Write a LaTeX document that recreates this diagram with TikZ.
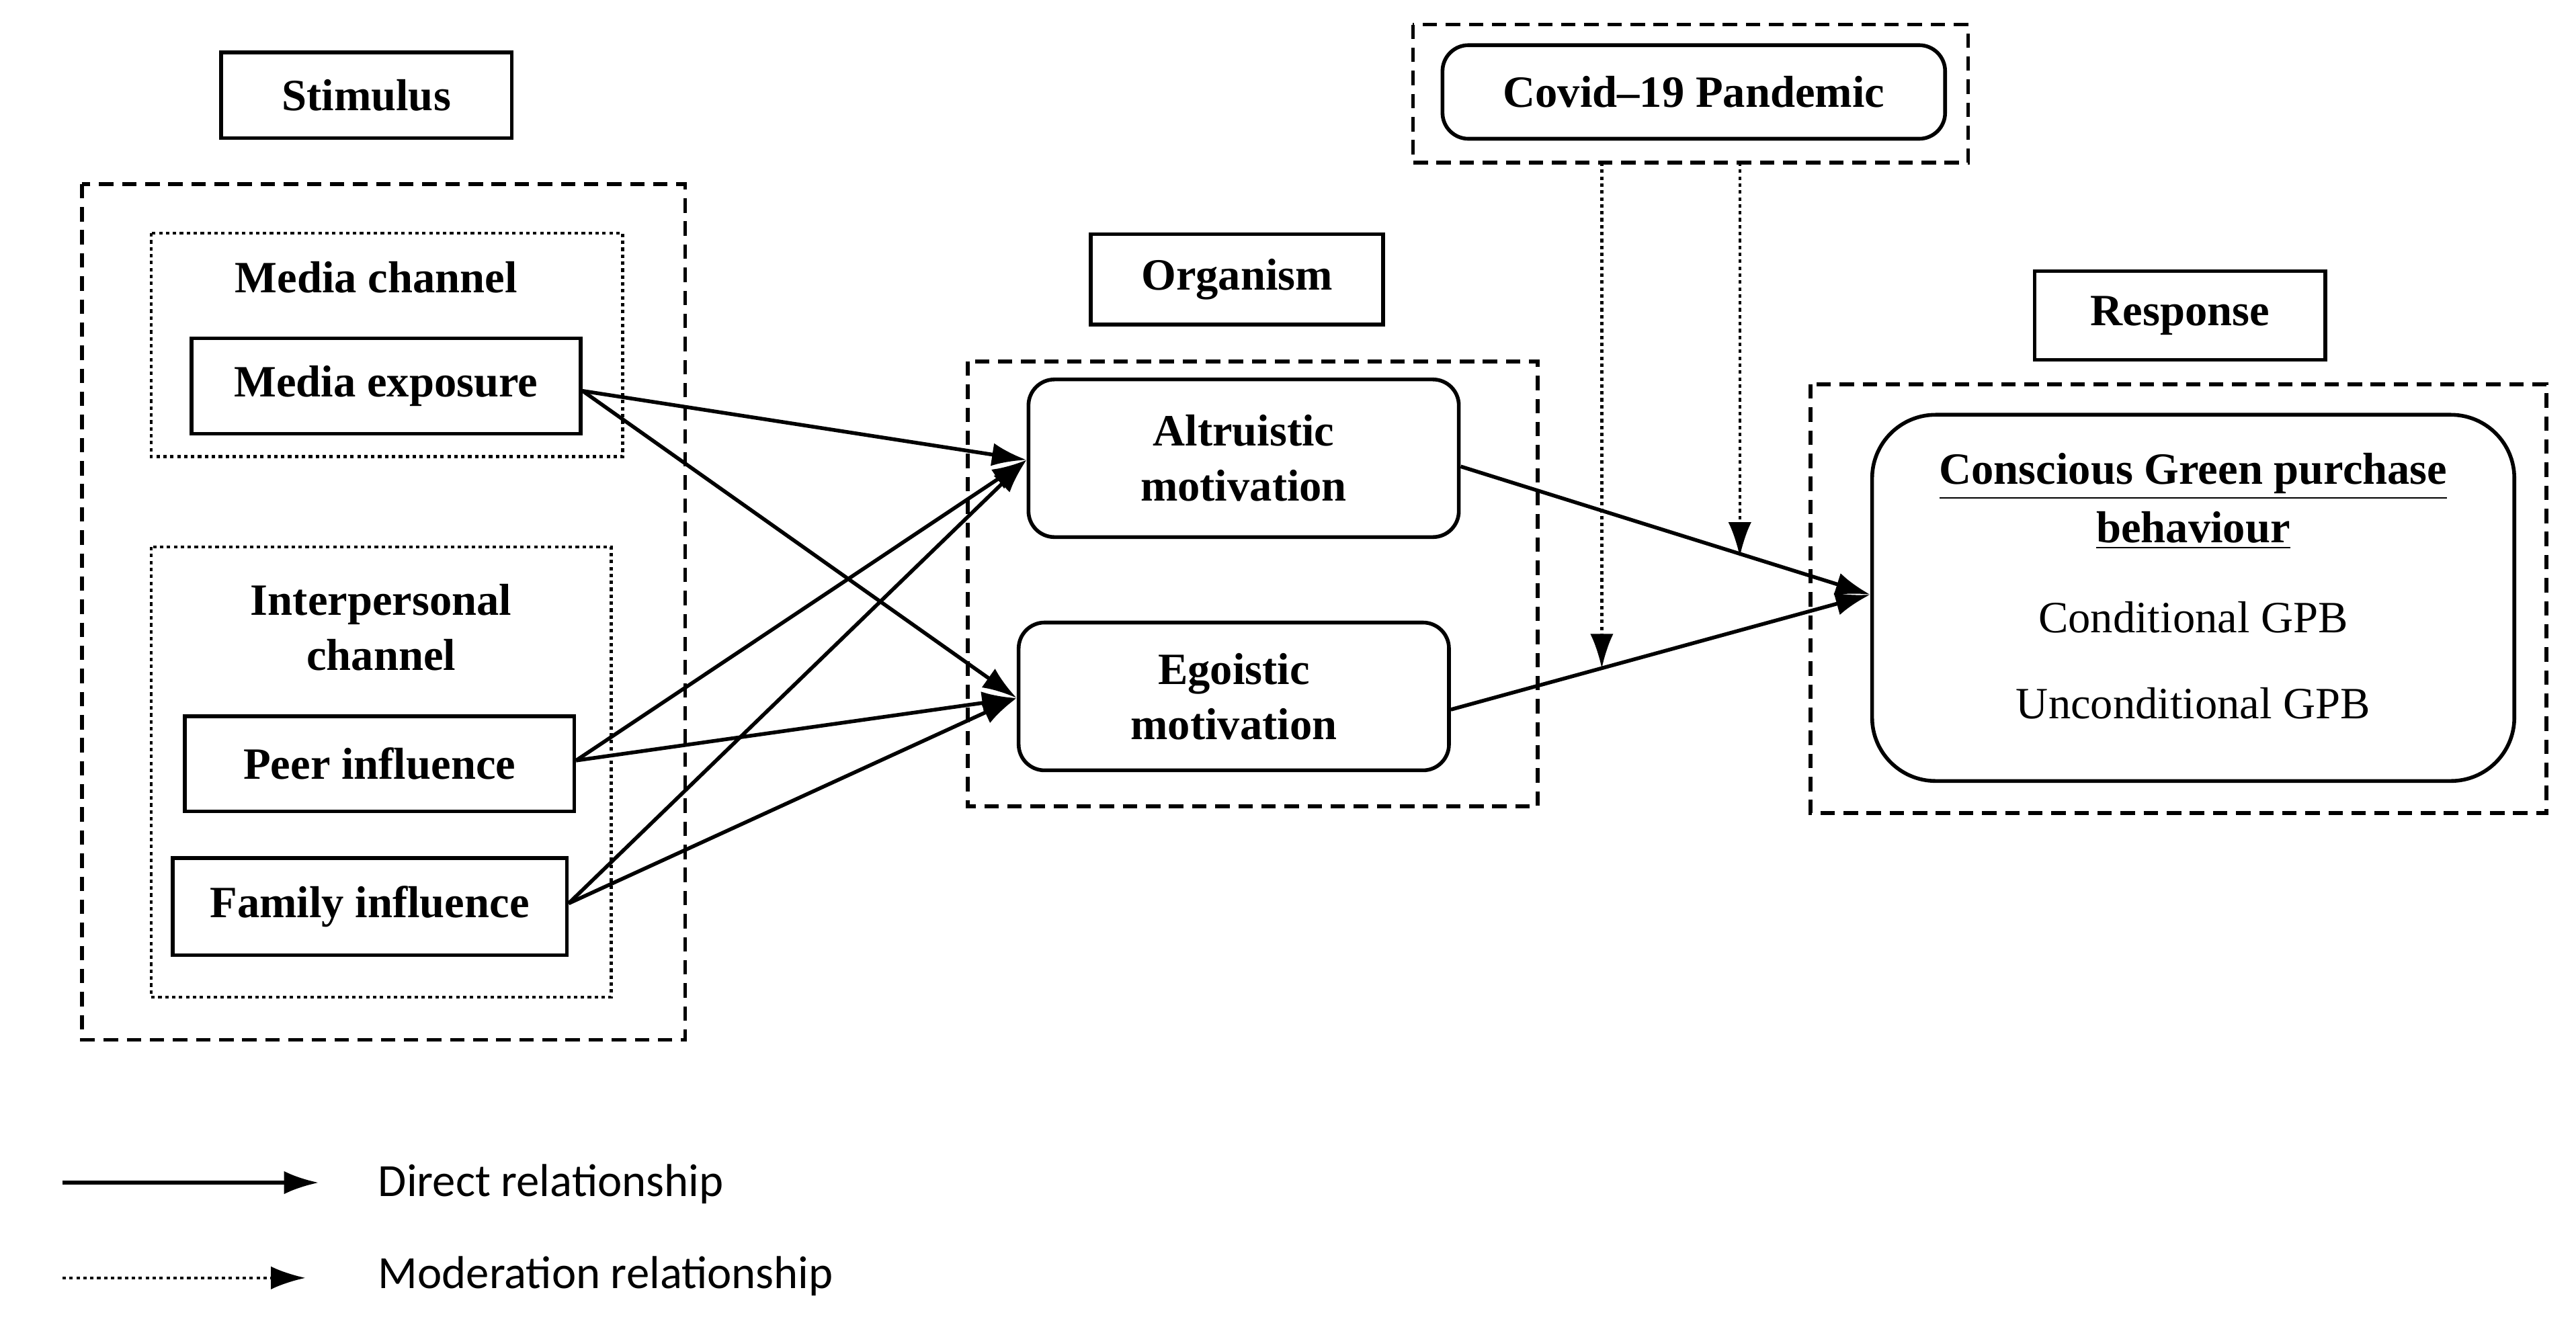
\documentclass[tikz,border=0pt]{standalone}
\usepackage{fontspec}
\setmainfont{Liberation Serif}
\newfontfamily\legfont{Carlito}
\usetikzlibrary{arrows.meta}
\begin{document}
\begin{tikzpicture}[x=0.02cm,y=-0.02cm,
  lw/.style={line width=1.3pt},
  box/.style={draw,lw,font=\fontsize{15.5}{19}\selectfont\bfseries,inner sep=0pt,align=center},
  rbox/.style={box,rounded corners=9pt},
  dashbox/.style={draw,lw,dash pattern=on 5pt off 3pt},
  dotbox/.style={draw,line width=1pt,dash pattern=on 1.2pt off 1.2pt},
  arr/.style={lw,-{Latex[length=12pt,width=8pt]}},
  marr/.style={line width=1pt,dash pattern=on 1.2pt off 1.2pt,-{Latex[length=12pt,width=8pt]}},
  lbl/.style={font=\fontsize{15.5}{19}\selectfont\bfseries,align=center}]
\useasboundingbox (0,0) rectangle (1568,803);
% Stimulus
\node[box,minimum width=3.54cm,minimum height=1.04cm] (stim) at (223,58) {Stimulus};
\draw[dashbox] (50,112) rectangle (417,633);
\draw[dotbox] (92,142) rectangle (379,278);
\node[lbl] (mc) at (229,169) {Media channel};
\node[box,minimum width=4.74cm,minimum height=1.16cm] (me) at (235,235) {Media exposure};
\draw[dotbox] (92,333) rectangle (372,607);
\node[lbl] (ic) at (232,382) {Interpersonal\\channel};
\node[box,minimum width=4.74cm,minimum height=1.16cm] (peer) at (231,465) {Peer influence};
\node[box,minimum width=4.8cm,minimum height=1.18cm] (fam) at (225,552) {Family influence};
% Organism
\node[box,minimum width=3.56cm,minimum height=1.1cm] (org) at (753,170) {Organism};
\draw[dashbox] (589,220) rectangle (936,491);
\node[rbox,minimum width=5.24cm,minimum height=1.92cm] (alt) at (757,279) {Altruistic\\motivation};
\node[rbox,minimum width=5.24cm,minimum height=1.8cm] (ego) at (751,424) {Egoistic\\motivation};
% Covid
\draw[dashbox] (860,15) rectangle (1198,99);
\coordinate (cb1) at (975,99);
\coordinate (cb2) at (1059,99);
\node[rbox,minimum width=6.12cm,minimum height=1.14cm] (cov) at (1031,56) {Covid--19 Pandemic};
% Response
\node[box,minimum width=3.54cm,minimum height=1.08cm] (resp) at (1327,192) {Response};
\draw[dashbox] (1102,234) rectangle (1550,495);
\node[rbox,rounded corners=22pt,minimum width=7.82cm,minimum height=4.46cm] (cgp) at (1335,364) {};
\node[lbl] (t1) at (1335,290) {\underline{Conscious Green purchase}};
\node[lbl] (t2) at (1335,323) {\underline{behaviour}};
\node[font=\fontsize{15.5}{19}\selectfont] (t3) at (1335,376) {Conditional GPB};
\node[font=\fontsize{15.5}{19}\selectfont] (t4) at (1335,428) {Unconditional GPB};
% arrows
\draw[arr] ([yshift=-0.06cm]me.east) -- ([yshift=-0.02cm]alt.west);
\draw[arr] ([yshift=-0.06cm]me.east) -- ([yshift=-0.02cm]ego.west);
\draw[arr] ([yshift=0.04cm]peer.east) -- ([yshift=-0.02cm]alt.west);
\draw[arr] ([yshift=0.04cm]peer.east) -- ([yshift=-0.02cm]ego.west);
\draw[arr] ([yshift=0.04cm]fam.east) -- ([yshift=-0.02cm]alt.west);
\draw[arr] ([yshift=0.04cm]fam.east) -- ([yshift=-0.02cm]ego.west);
\draw[arr] ([yshift=-0.1cm]alt.east) -- ([yshift=0.04cm]cgp.west);
\draw[arr] ([yshift=-0.16cm]ego.east) -- ([yshift=0.04cm]cgp.west);
\coordinate (m1) at (975,407);
\coordinate (m2) at (1059,339);
\draw[marr] (cb1) -- (m1);
\draw[marr] (cb2) -- (m2);
% legend
\coordinate (l1a) at (38,720); \coordinate (l1b) at (194,720);
\coordinate (l2a) at (38,778); \coordinate (l2b) at (186,778);
\draw[arr] (l1a) -- (l1b);
\draw[marr] (l2a) -- (l2b);
\node[anchor=west,font=\legfont\fontsize{16}{19}\selectfont] (lg1) at (224,721) {Direct relationship};
\node[anchor=west,font=\legfont\fontsize{16}{19}\selectfont] (lg2) at (224,777) {Moderation relationship};
\end{tikzpicture}
\end{document}
